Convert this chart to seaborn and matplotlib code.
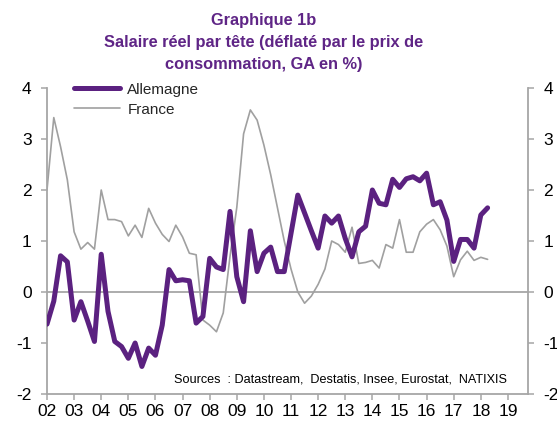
import numpy as np
import pandas as pd
import matplotlib
matplotlib.use("Agg")
import matplotlib.pyplot as plt
import seaborn as sns

# ---- data (quarterly, 2002Q1 .. 2018Q2) ----
start_quarter = "2002Q1"
end_quarter = "2018Q2"
allemagne = [-0.63, -0.18, 0.71, 0.59, -0.55, -0.19, -0.57, -0.97,
             0.74, -0.38, -0.97, -1.07, -1.30, -1.00, -1.46, -1.10,
             -1.24, -0.65, 0.44, 0.22, 0.24, 0.22, -0.61, -0.48,
             0.66, 0.49, 0.44, 1.58, 0.30, -0.19, 1.20, 0.40,
             0.76, 0.88, 0.40, 0.40, 1.15, 1.90, 1.55, 1.20,
             0.86, 1.49, 1.35, 1.49, 1.05, 0.69, 1.18, 1.29,
             2.00, 1.74, 1.71, 2.21, 2.05, 2.22, 2.26, 2.18,
             2.33, 1.71, 1.77, 1.41, 0.60, 1.03, 1.03, 0.86,
             1.51, 1.65]
france = [2.00, 3.42, 2.85, 2.20, 1.18, 0.84, 0.97, 0.84,
          2.00, 1.42, 1.42, 1.38, 1.10, 1.31, 1.07, 1.64,
          1.35, 1.13, 0.99, 1.31, 1.08, 0.76, 0.73, -0.55,
          -0.65, -0.78, -0.41, 0.70, 1.66, 3.10, 3.57, 3.37,
          2.88, 2.30, 1.65, 1.00, 0.45, 0.00, -0.22, -0.08,
          0.15, 0.45, 1.00, 0.93, 0.78, 1.27, 0.56, 0.58,
          0.62, 0.47, 0.93, 0.86, 1.42, 0.78, 0.78, 1.18,
          1.33, 1.42, 1.22, 0.90, 0.30, 0.63, 0.80, 0.62,
          0.68, 0.64]
years = list(range(2002, 2020))
year_labels = [f"{y % 100:02d}" for y in years]
y_ticks = [-2, -1, 0, 1, 2, 3, 4]

title_lines = ["Graphique 1b",
               "Salaire réel par tête (déflaté par le prix de",
               "consommation, GA en %)"]
source_text = "Sources  : Datastream,  Destatis, Insee, Eurostat,  NATIXIS"

# ---- build frame ----
periods = pd.period_range(start_quarter, end_quarter, freq="Q")
t = periods.year + (periods.quarter - 1) / 4.0
df = pd.DataFrame({"t": t, "Allemagne": allemagne, "France": france})

purple = "#5B2180"
grey_line = "#A0A0A0"
axis_grey = "#A6A6A6"

sns.set_theme(style="white")
plt.rcParams["font.family"] = ["Liberation Sans", "DejaVu Sans"]

fig = plt.figure(figsize=(5.57, 4.21), dpi=100)
ax = fig.add_axes([47 / 557, 1 - 394 / 421, (528 - 47) / 557, (394 - 88) / 421])

ax.axhline(0, color=axis_grey, lw=1.3, zorder=1)
sns.lineplot(data=df, x="t", y="France", ax=ax, color=grey_line, lw=1.2,
             label="France", zorder=2)
sns.lineplot(data=df, x="t", y="Allemagne", ax=ax, color=purple, lw=3.6,
             label="Allemagne", zorder=3)

ax.set_xlim(2002, 2019.74)
ax.set_ylim(-2, 4)
ax.set_xticks(years)
ax.set_xticklabels(year_labels)
ax.set_yticks(y_ticks)
ax.set_yticklabels([str(v) for v in y_ticks])
ax.set_xlabel("")
ax.set_ylabel("")

for side in ["left", "right", "bottom"]:
    ax.spines[side].set_visible(True)
    ax.spines[side].set_color(axis_grey)
    ax.spines[side].set_linewidth(1.3)
ax.spines["top"].set_visible(False)

ax.tick_params(axis="y", which="both", left=True, right=True, labelleft=True,
               labelright=True, direction="out", length=4, width=1.1,
               color=axis_grey, pad=7, labelsize=12.5, labelcolor="black")
ax.tick_params(axis="x", bottom=True, direction="out", length=4, width=1.1,
               color=axis_grey, pad=3, labelsize=12.5, labelcolor="black")

handles, labels = ax.get_legend_handles_labels()
order = [labels.index("Allemagne"), labels.index("France")]
leg = ax.legend([handles[i] for i in order], [labels[i] for i in order],
                loc="upper left", bbox_to_anchor=(0.056, 1.017), frameon=False,
                fontsize=11, handlelength=3.0, handletextpad=0.5,
                labelspacing=0.38, borderpad=0, borderaxespad=0)

ax.text(507 / 557, 1 - 379 / 421, source_text, transform=fig.transFigure,
        ha="right", va="center", fontsize=9.1, color="black")

for k, (line, ypix) in enumerate(zip(title_lines, [21, 43, 64])):
    fig.text(264 / 557, 1 - ypix / 421, line, ha="center", va="center",
             fontsize=11.8, fontweight="bold", color="#5F2586")

fig.savefig("out.png", dpi=100)
